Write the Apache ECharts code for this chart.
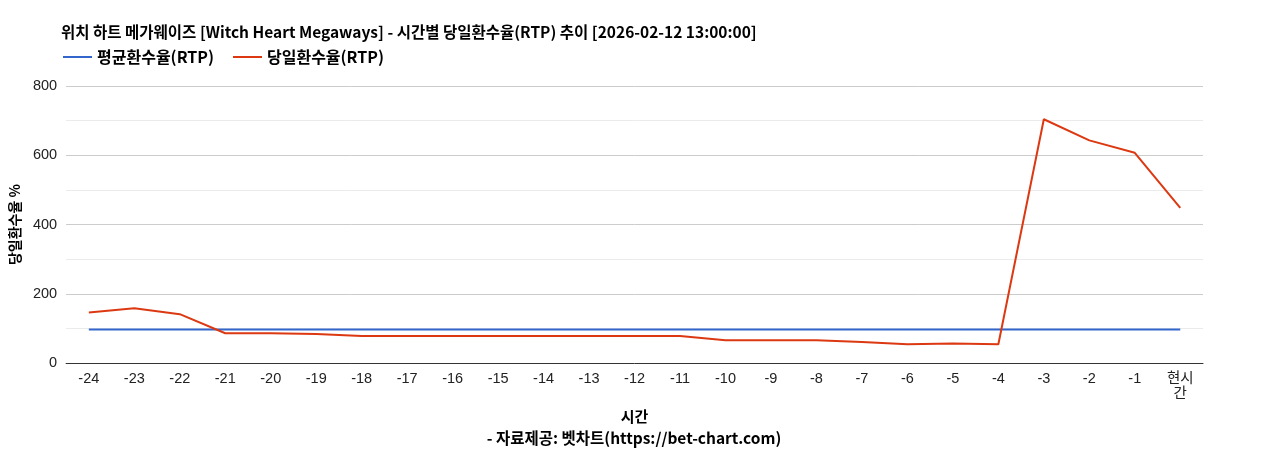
<!DOCTYPE html>
<html>
<head>
<meta charset="utf-8">
<script src="https://cdn.jsdelivr.net/npm/echarts@6/dist/echarts.min.js"></script>
<style>
  html, body { margin: 0; padding: 0; background: #fff; }
  #chart { width: 1268px; height: 450px; }
</style>
</head>
<body>
<div id="chart"></div>
<script>
const hours = ['-24', '-23', '-22', '-21', '-20', '-19', '-18', '-17', '-16', '-15', '-14', '-13',
    '-12', '-11', '-10', '-9', '-8', '-7', '-6', '-5', '-4', '-3', '-2', '-1', '현시간'];
const avgRtp = [97, 97, 97, 97, 97, 97, 97, 97, 97, 97, 97, 97, 97, 97, 97, 97, 97, 97, 97, 97, 97, 97, 97, 97, 97];
const dayRtp = [146, 158, 141, 86, 86, 84, 78, 78, 78, 78, 78, 78, 78, 78, 66, 66, 66, 61, 54, 56, 54, 704, 643, 607, 448];

const font = "'Noto Sans CJK KR', 'Liberation Sans', sans-serif";
const numFont = "'Liberation Sans', 'Noto Sans CJK KR', sans-serif";

echarts.init(document.querySelector('#chart')).setOption({
    animation: false,
    textStyle: { fontFamily: font },
    title: [
        {
            text: '위치 하트 메가웨이즈 [Witch Heart Megaways] - 시간별 당일환수율(RTP) 추이 [2026-02-12 13:00:00]',
            left: 56,
            top: 19,
            textStyle: { fontSize: 15.5, fontWeight: 'bold', color: '#000', fontFamily: font },
        },
        {
            text: '- 자료제공: 벳차트(https://bet-chart.com)',
            left: 'center',
            top: 425,
            textStyle: { fontSize: 15.5, fontWeight: 'bold', color: '#000', fontFamily: font },
        },
    ],
    legend: {
        left: 58,
        top: 44,
        itemWidth: 29,
        itemHeight: 2,
        itemGap: 19,
        icon: 'rect',
        textStyle: { fontSize: 16, fontWeight: 'bold', color: '#000', fontFamily: font },
        data: ['평균환수율(RTP)', '당일환수율(RTP)'],
    },
    grid: { left: 63, right: 65, top: 86, bottom: 87 },
    xAxis: {
        type: 'category',
        data: hours,
        boundaryGap: true,
        name: '시간',
        nameLocation: 'middle',
        nameGap: 46,
        nameTextStyle: { fontSize: 15, fontWeight: 'bold', color: '#000' },
        axisLine: { lineStyle: { color: '#333' } },
        axisTick: { show: false },
        axisLabel: {
            color: '#222',
            fontSize: 14.5,
            fontFamily: numFont,
            margin: 9,
            interval: 0,
            formatter: (v) => (v === '현시간' ? '현시\n간' : v),
        },
    },
    yAxis: {
        type: 'value',
        min: 0,
        max: 800,
        interval: 100,
        name: '당일환수율 %',
        nameLocation: 'middle',
        nameGap: 40,
        nameTextStyle: { fontSize: 14, fontWeight: 'bold', color: '#000' },
        axisLine: { show: false },
        axisTick: { show: false },
        axisLabel: {
            color: '#222',
            fontSize: 14.5,
            fontFamily: numFont,
            margin: 9,
            formatter: (v) => (v % 200 === 0 ? String(v) : ''),
        },
        splitLine: { lineStyle: { color: ['#cccccc', '#ebebeb'], width: 1 } },
    },
    series: [
        {
            name: '평균환수율(RTP)',
            type: 'line',
            data: avgRtp,
            symbol: 'none',
            itemStyle: { color: '#3366cc' },
            lineStyle: { color: '#3366cc', width: 2 },
        },
        {
            name: '당일환수율(RTP)',
            type: 'line',
            data: dayRtp,
            symbol: 'none',
            itemStyle: { color: '#dc3912' },
            lineStyle: { color: '#dc3912', width: 2 },
        },
    ],
});
</script>
</body>
</html>
